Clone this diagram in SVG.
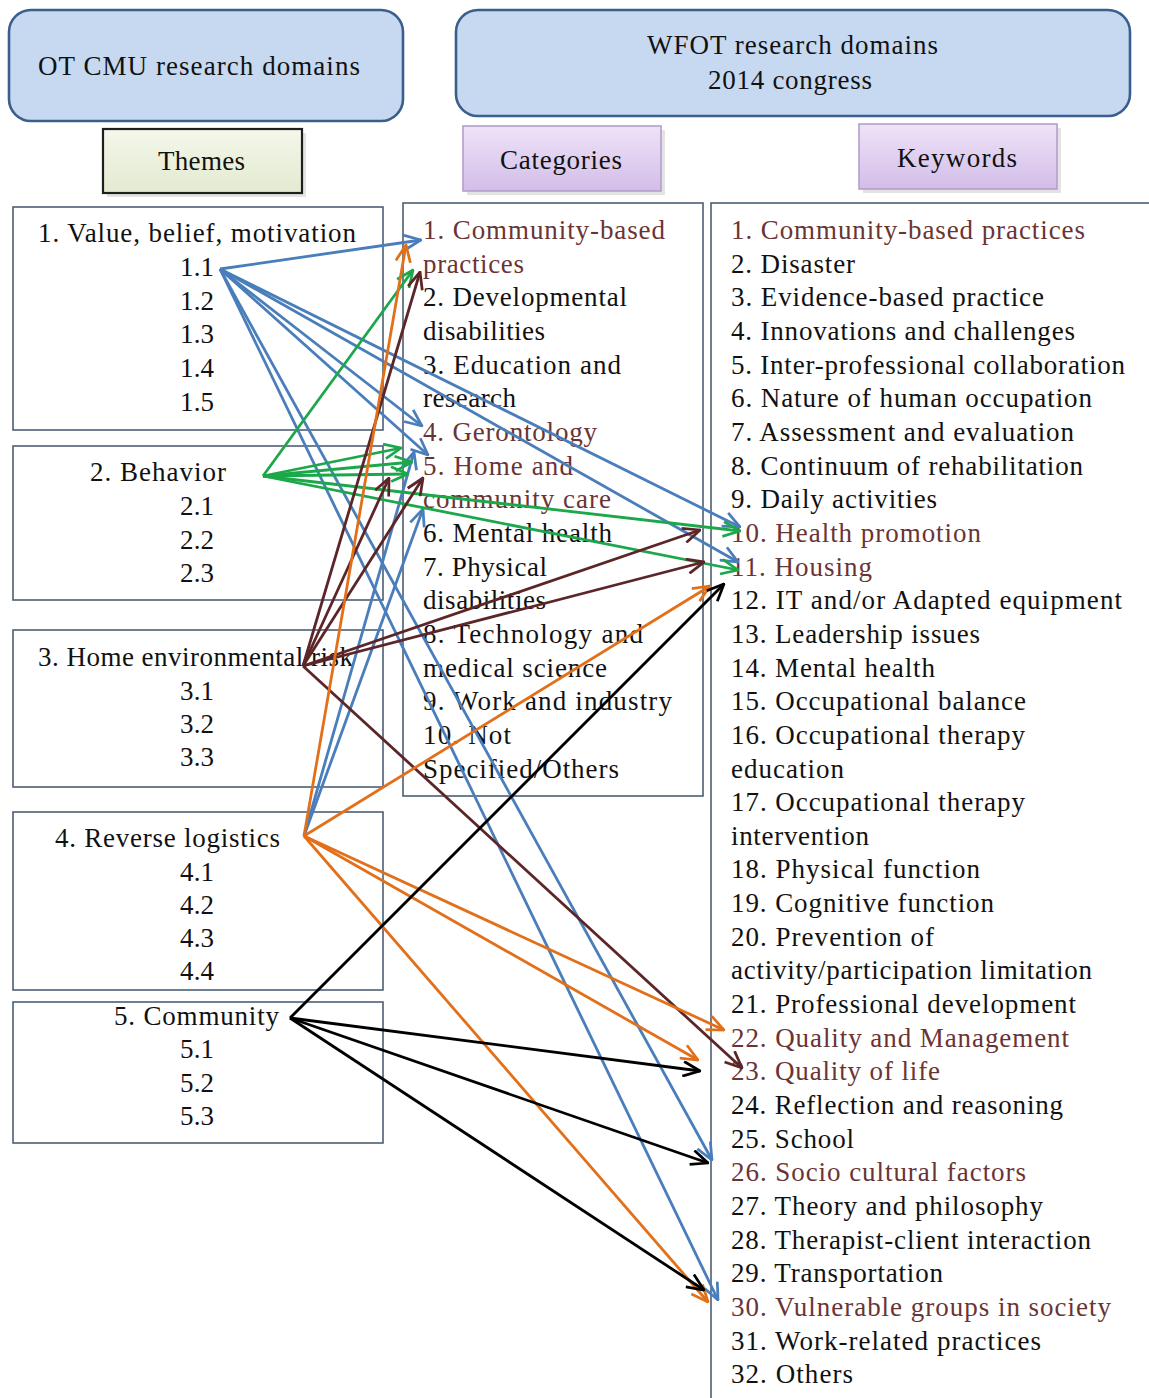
<svg xmlns="http://www.w3.org/2000/svg" width="1149" height="1398" viewBox="0 0 1149 1398">
<style>
text{font-family:"Liberation Serif","Times New Roman",serif;font-size:27px;fill:#111}
.hl{fill:#6a3434}
.box{fill:none;stroke:#4d6075;stroke-width:1.6}
.hdr{fill:#c6d9f1;stroke:#3b5f8c;stroke-width:2.6}
.c{fill:none;stroke-width:2.8}
.bl{stroke:#4a7ebb}.gr{stroke:#1ca84a}.br{stroke:#5c2628}.or{stroke:#e2701a}.bk{stroke:#000}
</style>
<defs>
<linearGradient id="gTh" x1="0" y1="0" x2="0" y2="1"><stop offset="0" stop-color="#f4f7ea"/><stop offset="1" stop-color="#e3ead0"/></linearGradient>
<linearGradient id="gPu" x1="0" y1="0" x2="0" y2="1"><stop offset="0" stop-color="#eee3f8"/><stop offset="1" stop-color="#d3bde8"/></linearGradient>
<marker id="mbl" markerUnits="userSpaceOnUse" viewBox="0 0 18 16" markerWidth="19" markerHeight="17" refX="17" refY="8" orient="auto"><path d="M1,1 L17,8 L1,15" fill="none" stroke="#4a7ebb" stroke-width="2.6"/></marker>
<marker id="mgr" markerUnits="userSpaceOnUse" viewBox="0 0 18 16" markerWidth="19" markerHeight="17" refX="17" refY="8" orient="auto"><path d="M1,1 L17,8 L1,15" fill="none" stroke="#1ca84a" stroke-width="2.6"/></marker>
<marker id="mbr" markerUnits="userSpaceOnUse" viewBox="0 0 18 16" markerWidth="19" markerHeight="17" refX="17" refY="8" orient="auto"><path d="M1,1 L17,8 L1,15" fill="none" stroke="#5c2628" stroke-width="2.6"/></marker>
<marker id="mor" markerUnits="userSpaceOnUse" viewBox="0 0 18 16" markerWidth="19" markerHeight="17" refX="17" refY="8" orient="auto"><path d="M1,1 L17,8 L1,15" fill="none" stroke="#e2701a" stroke-width="2.6"/></marker>
<marker id="mbk" markerUnits="userSpaceOnUse" viewBox="0 0 18 16" markerWidth="19" markerHeight="17" refX="17" refY="8" orient="auto"><path d="M1,1 L17,8 L1,15" fill="none" stroke="#000" stroke-width="2.6"/></marker>
</defs>
<rect width="1149" height="1398" fill="#fff"/>

<g id="hdr-otcmu">
<rect class="hdr" x="9" y="10" width="394" height="111" rx="22"/>
<text x="38" y="75" textLength="322">OT CMU research domains</text>
</g>
<g id="hdr-wfot">
<rect class="hdr" x="456" y="10" width="674" height="106" rx="22"/>
<text x="647" y="54" textLength="291">WFOT research domains</text>
<text x="708" y="89" textLength="164">2014 congress</text>
</g>
<g id="lbl-themes">
<rect x="107" y="133" width="199" height="64" fill="#c8c8c8" opacity="0.5"/>
<rect x="103" y="129" width="199" height="64" fill="url(#gTh)" stroke="#1e1e1e" stroke-width="2.2"/>
<text x="158" y="170" textLength="87">Themes</text>
</g>
<g id="lbl-categories">
<rect x="467" y="130" width="198" height="65" fill="#c8c8c8" opacity="0.5"/>
<rect x="463" y="126" width="198" height="65" fill="url(#gPu)" stroke="#b39fcc" stroke-width="1.6"/>
<text x="500" y="169" textLength="122">Categories</text>
</g>
<g id="lbl-keywords">
<rect x="863" y="128" width="198" height="65" fill="#c8c8c8" opacity="0.5"/>
<rect x="859" y="124" width="198" height="65" fill="url(#gPu)" stroke="#b39fcc" stroke-width="1.6"/>
<text x="897" y="167" textLength="120">Keywords</text>
</g>

<g id="theme-1">
<rect class="box" x="13" y="207" width="370" height="223"/>
<text x="38" y="242" textLength="318">1. Value, belief, motivation</text>
<text x="180" y="276" textLength="34">1.1</text>
<text x="180" y="310" textLength="34">1.2</text>
<text x="180" y="343" textLength="34">1.3</text>
<text x="180" y="377" textLength="34">1.4</text>
<text x="180" y="411" textLength="34">1.5</text>
</g>
<g id="theme-2">
<rect class="box" x="13" y="446" width="370" height="154"/>
<text x="90" y="481" textLength="136">2. Behavior</text>
<text x="180" y="515" textLength="34">2.1</text>
<text x="180" y="549" textLength="34">2.2</text>
<text x="180" y="582" textLength="34">2.3</text>
</g>
<g id="theme-3">
<rect class="box" x="13" y="630" width="370" height="157"/>
<text x="38" y="666" textLength="315">3. Home environmental risk</text>
<text x="180" y="700" textLength="34">3.1</text>
<text x="180" y="733" textLength="34">3.2</text>
<text x="180" y="766" textLength="34">3.3</text>
</g>
<g id="theme-4">
<rect class="box" x="13" y="812" width="370" height="178"/>
<text x="55" y="847" textLength="225">4. Reverse logistics</text>
<text x="180" y="881" textLength="34">4.1</text>
<text x="180" y="914" textLength="34">4.2</text>
<text x="180" y="947" textLength="34">4.3</text>
<text x="180" y="980" textLength="34">4.4</text>
</g>
<g id="theme-5">
<rect class="box" x="13" y="1002" width="370" height="141"/>
<text x="114" y="1025" textLength="165">5. Community</text>
<text x="180" y="1058" textLength="34">5.1</text>
<text x="180" y="1092" textLength="34">5.2</text>
<text x="180" y="1125" textLength="34">5.3</text>
</g>

<g id="categories">
<rect class="box" x="403" y="203" width="300" height="593"/>
<text class="hl" x="423" y="239" textLength="242">1. Community-based</text>
<text class="hl" x="423" y="273" textLength="101">practices</text>
<text x="423" y="306" textLength="204">2. Developmental</text>
<text x="423" y="340" textLength="122">disabilities</text>
<text x="423" y="374" textLength="198">3. Education and</text>
<text x="423" y="407" textLength="93">research</text>
<text class="hl" x="423" y="441" textLength="174">4. Gerontology</text>
<text class="hl" x="423" y="475" textLength="150">5. Home and</text>
<text class="hl" x="423" y="508" textLength="188">community care</text>
<text x="423" y="542" textLength="189">6. Mental health</text>
<text x="423" y="576" textLength="124">7. Physical</text>
<text x="423" y="609" textLength="123">disabilities</text>
<text x="423" y="643" textLength="220">8. Technology  and</text>
<text x="423" y="677" textLength="184">medical science</text>
<text x="423" y="710" textLength="249">9. Work and industry</text>
<text x="423" y="744" textLength="88">10. Not</text>
<text x="423" y="778" textLength="196">Specified/Others</text>
</g>

<g id="keywords">
<rect class="box" x="711" y="203" width="460" height="1215"/>
<text class="hl" x="731" y="239" textLength="354">1. Community-based practices</text>
<text x="731" y="273" textLength="124">2. Disaster</text>
<text x="731" y="306" textLength="313">3. Evidence-based practice</text>
<text x="731" y="340" textLength="344">4. Innovations and challenges</text>
<text x="731" y="374" textLength="394">5. Inter-professional collaboration</text>
<text x="731" y="407" textLength="361">6. Nature of human occupation</text>
<text x="731" y="441" textLength="343">7. Assessment and evaluation</text>
<text x="731" y="475" textLength="352">8. Continuum of rehabilitation</text>
<text x="731" y="508" textLength="206">9. Daily activities</text>
<text class="hl" x="731" y="542" textLength="250">10. Health promotion</text>
<text class="hl" x="731" y="576" textLength="141">11. Housing</text>
<text x="731" y="609" textLength="391">12. IT and/or Adapted equipment</text>
<text x="731" y="643" textLength="249">13. Leadership issues</text>
<text x="731" y="677" textLength="204">14. Mental health</text>
<text x="731" y="710" textLength="295">15. Occupational balance</text>
<text x="731" y="744" textLength="294">16. Occupational therapy</text>
<text x="731" y="778" textLength="113">education</text>
<text x="731" y="811" textLength="294">17. Occupational therapy</text>
<text x="731" y="845" textLength="138">intervention</text>
<text x="731" y="878" textLength="249">18. Physical function</text>
<text x="731" y="912" textLength="263">19. Cognitive function</text>
<text x="731" y="946" textLength="203">20. Prevention of</text>
<text x="731" y="979" textLength="361">activity/participation limitation</text>
<text x="731" y="1013" textLength="345">21. Professional development</text>
<text class="hl" x="731" y="1047" textLength="338">22. Quality and Management</text>
<text class="hl" x="731" y="1080" textLength="209">23. Quality of life</text>
<text x="731" y="1114" textLength="332">24. Reflection and reasoning</text>
<text x="731" y="1148" textLength="123">25. School</text>
<text class="hl" x="731" y="1181" textLength="295">26. Socio cultural factors</text>
<text x="731" y="1215" textLength="312">27. Theory and philosophy</text>
<text x="731" y="1249" textLength="360">28. Therapist-client interaction</text>
<text x="731" y="1282" textLength="212">29. Transportation</text>
<text class="hl" x="731" y="1316" textLength="380">30. Vulnerable groups in society</text>
<text x="731" y="1350" textLength="310">31. Work-related practices</text>
<text x="731" y="1383" textLength="122">32. Others</text>
</g>

<g id="connectors">
<g class="c bl" marker-end="url(#mbl)">
<line x1="220" y1="269" x2="421" y2="240"/>
<line x1="220" y1="269" x2="740" y2="527"/>
<line x1="220" y1="269" x2="738" y2="562"/>
<line x1="220" y1="269" x2="422" y2="426"/>
<line x1="220" y1="269" x2="428" y2="455"/>
<line x1="220" y1="269" x2="712" y2="1160"/>
<line x1="220" y1="269" x2="718" y2="1300"/>
<line x1="304" y1="836" x2="414" y2="452"/>
<line x1="304" y1="836" x2="423" y2="509"/>
</g>
<g class="c gr" marker-end="url(#mgr)">
<line x1="263" y1="476" x2="413" y2="270"/>
<line x1="263" y1="476" x2="401" y2="448"/>
<line x1="263" y1="476" x2="412" y2="462"/>
<line x1="263" y1="476" x2="408" y2="474"/>
<line x1="263" y1="476" x2="740" y2="531"/>
<line x1="263" y1="476" x2="738" y2="570"/>
</g>
<g class="c br" marker-end="url(#mbr)">
<line x1="303" y1="666" x2="420" y2="272"/>
<line x1="303" y1="666" x2="389" y2="478"/>
<line x1="303" y1="666" x2="423" y2="478"/>
<line x1="303" y1="666" x2="700" y2="530"/>
<line x1="303" y1="666" x2="704" y2="562"/>
<line x1="303" y1="666" x2="742" y2="1068"/>
</g>
<g class="c or" marker-end="url(#mor)">
<line x1="304" y1="836" x2="406" y2="245"/>
<line x1="304" y1="836" x2="710" y2="586"/>
<line x1="304" y1="836" x2="724" y2="1030"/>
<line x1="304" y1="836" x2="698" y2="1060"/>
<line x1="304" y1="836" x2="708" y2="1302"/>
</g>
<g class="c bk" marker-end="url(#mbk)">
<line x1="290" y1="1018" x2="724" y2="584"/>
<line x1="290" y1="1018" x2="700" y2="1071"/>
<line x1="290" y1="1018" x2="708" y2="1163"/>
<line x1="290" y1="1018" x2="704" y2="1290"/>
</g>
</g>
</svg>
